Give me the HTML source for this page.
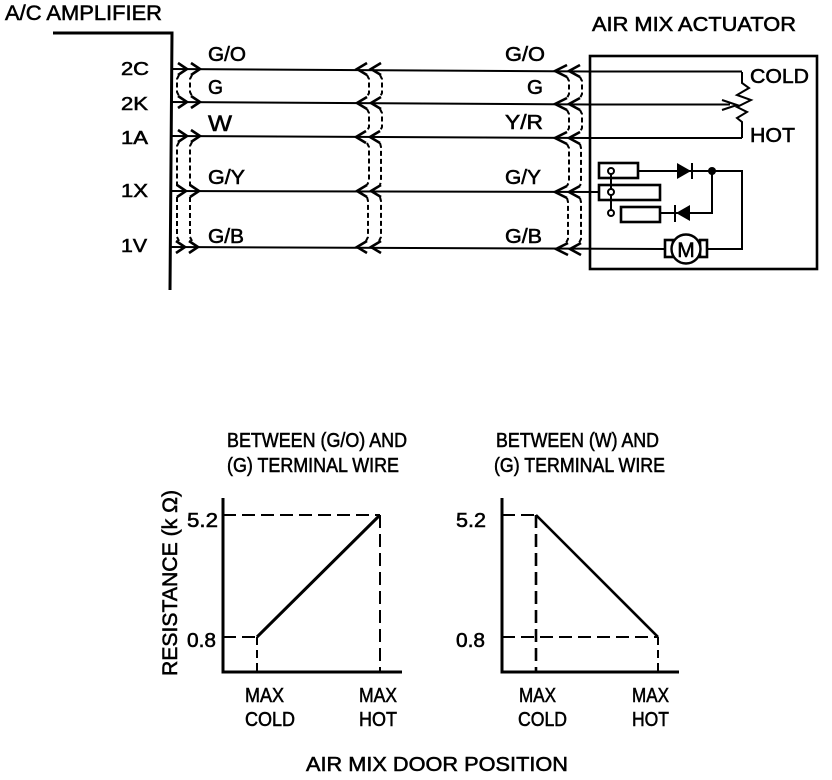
<!DOCTYPE html>
<html>
<head>
<meta charset="utf-8">
<style>
html,body{margin:0;padding:0;background:#fff;width:832px;height:780px;overflow:hidden}
svg{display:block}
text{font-family:"Liberation Sans",sans-serif;font-size:20px;fill:#000;stroke:#000;stroke-width:.55}
.p{font-size:18px}
.s{fill:none;stroke:#000;stroke-width:2}
.c{fill:none;stroke:#000;stroke-width:2.6}
.t{fill:none;stroke:#000;stroke-width:3}
.d{fill:none;stroke:#000;stroke-width:2;stroke-dasharray:5 3}
.g{fill:none;stroke:#000;stroke-width:2;stroke-dasharray:13 6}
.h{fill:none;stroke:#000;stroke-width:2;stroke-dasharray:8 5}
</style>
</head>
<body>
<svg width="832" height="780" viewBox="0 0 832 780" xmlns="http://www.w3.org/2000/svg">
<defs>
<path id="L" class="c" d="M178 -6L187 0L178 6M191 -6L200 0L191 6"/>
<path id="R" class="c" d="M367 -6L357 0L367 6M381 -6L371 0L381 6"/>
<path id="Q" class="c" d="M567 -6L555 0L567 6M580 -6L569 0L580 6"/>
</defs>

<!-- Amplifier -->
<path class="t" d="M53 33H172L170 290"/>
<text x="5" y="20" style="font-size:21px" textLength="157" lengthAdjust="spacingAndGlyphs">A/C AMPLIFIER</text>
<text class="p" x="121" y="75" textLength="28" lengthAdjust="spacingAndGlyphs">2C</text>
<text class="p" x="121" y="110" textLength="27" lengthAdjust="spacingAndGlyphs">2K</text>
<text class="p" x="121" y="144" textLength="27" lengthAdjust="spacingAndGlyphs">1A</text>
<text class="p" x="121" y="197" textLength="27" lengthAdjust="spacingAndGlyphs">1X</text>
<text class="p" x="121" y="252" textLength="26" lengthAdjust="spacingAndGlyphs">1V</text>

<!-- Wires -->
<path class="s" d="M171 69L590 71.5H742"/>
<path class="s" d="M171 102L590 104.5H730"/>
<path class="s" d="M171 136L590 138H742"/>
<path class="s" d="M171 191L599 192"/>
<path class="s" d="M171 247L665 249"/>

<!-- Chevrons -->
<use href="#L" x="0" y="69"/><use href="#L" x="0" y="102"/><use href="#L" x="0" y="136"/><use href="#L" x="-1" y="191"/><use href="#L" x="-2" y="247"/>
<use href="#R" x="0" y="69"/><use href="#R" x="0" y="103"/><use href="#R" x="-1" y="137"/><use href="#R" x="0" y="191"/><use href="#R" x="0" y="247"/>
<use href="#Q" x="0" y="71"/><use href="#Q" x="0" y="104"/><use href="#Q" x="0" y="138"/><use href="#Q" x="0" y="192"/><use href="#Q" x="1" y="249"/>

<!-- Dashed shields -->
<path class="d" d="M179 75L177 79V92L179 96M192 75L190 79V92L192 96"/>
<path class="d" d="M179 142L177 146V181L177 186M192 142L190 146V181L190 186"/>
<path class="d" d="M177 197V237L179 241M190 197V237L192 241"/>
<path class="d" d="M367 75L369 79V93L367 97M380 75L382 79V93L380 97"/>
<path class="d" d="M367 109L369 113V127L367 131M380 109L382 113V127L380 131"/>
<path class="d" d="M367 143L369 147V181L367 185M380 143L381 147V181L380 185"/>
<path class="d" d="M367 197L368 201V237L366 241M380 197L381 201V237L379 241"/>
<path class="d" d="M567 77L569 81V94L567 98M580 77L582 81V94L580 98"/>
<path class="d" d="M567 110L569 114V128L567 132M580 110L582 114V128L580 132"/>
<path class="d" d="M567 144L569 148V182L567 186M580 144L581 148V182L580 186"/>
<path class="d" d="M567 198L568 202V239L566 243M580 198L581 202V239L579 243"/>

<!-- Wire labels -->
<text x="208" y="61" textLength="38" lengthAdjust="spacingAndGlyphs">G/O</text>
<text x="208" y="94" textLength="15" lengthAdjust="spacingAndGlyphs">G</text>
<text x="208" y="131" style="font-size:22px" textLength="24" lengthAdjust="spacingAndGlyphs">W</text>
<text x="208" y="184" textLength="37" lengthAdjust="spacingAndGlyphs">G/Y</text>
<text x="208" y="243" textLength="36" lengthAdjust="spacingAndGlyphs">G/B</text>
<text x="505" y="61" textLength="40" lengthAdjust="spacingAndGlyphs">G/O</text>
<text x="527" y="94" textLength="16" lengthAdjust="spacingAndGlyphs">G</text>
<text x="505" y="129" textLength="38" lengthAdjust="spacingAndGlyphs">Y/R</text>
<text x="505" y="184" textLength="36" lengthAdjust="spacingAndGlyphs">G/Y</text>
<text x="505" y="243" textLength="37" lengthAdjust="spacingAndGlyphs">G/B</text>

<!-- Actuator -->
<text x="592" y="31" textLength="204" lengthAdjust="spacingAndGlyphs">AIR MIX ACTUATOR</text>
<rect x="590" y="56" width="227" height="213" class="c"/>
<text x="750" y="83" textLength="59" lengthAdjust="spacingAndGlyphs">COLD</text>
<text x="750" y="142" textLength="45" lengthAdjust="spacingAndGlyphs">HOT</text>
<path class="s" d="M742 72V83L749 88L737 95L751 100L737 107L747 112L737 118L742 122V138"/>
<path class="s" d="M722 100L737 105L722 110"/>

<rect x="599" y="163" width="39" height="15" class="c"/>
<rect x="599" y="185" width="61" height="15" class="c"/>
<rect x="621" y="207" width="39" height="15" class="c"/>
<path class="s" d="M611 171V213"/>
<circle cx="611" cy="171" r="3" fill="#fff" stroke="#000" stroke-width="2"/>
<circle cx="611" cy="192" r="3" fill="#fff" stroke="#000" stroke-width="2"/>
<circle cx="611" cy="213" r="3" fill="#fff" stroke="#000" stroke-width="2"/>
<path class="s" d="M638 171H742V249H708"/>
<path class="s" d="M712 171V213H660"/>
<path d="M677 163V179L691 171Z" fill="#000"/>
<path class="s" d="M692 163V179"/>
<path d="M690 205V221L676 213Z" fill="#000"/>
<path class="s" d="M675 205V222"/>
<circle cx="712" cy="171" r="4" fill="#000"/>
<rect x="665" y="240" width="8" height="17" class="c"/>
<rect x="700" y="240" width="7" height="17" class="c"/>
<circle cx="686" cy="249" r="14.5" fill="#fff" stroke="#000" stroke-width="2.4"/>
<text x="686" y="257" text-anchor="middle" style="font-size:21px">M</text>

<!-- Graph 1 -->
<text x="227" y="447" textLength="180" lengthAdjust="spacingAndGlyphs">BETWEEN (G/O) AND</text>
<text x="227" y="472" textLength="172" lengthAdjust="spacingAndGlyphs">(G) TERMINAL WIRE</text>
<path class="t" d="M223 498V672H402"/>
<path class="g" d="M223 515H380"/>
<path class="g" d="M380 515V672"/>
<path class="g" d="M223 637H257"/>
<path class="h" d="M257 637V672"/>
<path class="t" d="M257 637L380 515"/>
<text x="187" y="527" textLength="31" lengthAdjust="spacingAndGlyphs">5.2</text>
<text x="187" y="647" textLength="29" lengthAdjust="spacingAndGlyphs">0.8</text>
<text transform="translate(177 676) rotate(-90)" style="font-size:21px" textLength="186" lengthAdjust="spacingAndGlyphs">RESISTANCE (k Ω)</text>
<text x="245" y="702" textLength="39" lengthAdjust="spacingAndGlyphs">MAX</text>
<text x="245" y="726" textLength="50" lengthAdjust="spacingAndGlyphs">COLD</text>
<text x="359" y="702" textLength="38" lengthAdjust="spacingAndGlyphs">MAX</text>
<text x="359" y="726" textLength="38" lengthAdjust="spacingAndGlyphs">HOT</text>

<!-- Graph 2 -->
<text x="496" y="447" textLength="163" lengthAdjust="spacingAndGlyphs">BETWEEN (W) AND</text>
<text x="494" y="472" textLength="171" lengthAdjust="spacingAndGlyphs">(G) TERMINAL WIRE</text>
<path class="t" d="M502 498V672H679"/>
<path class="g" d="M502 515H536"/>
<path class="g" d="M536 515V672" style="stroke-width:2.6"/>
<path class="g" d="M502 637H658"/>
<path class="h" d="M658 637V672"/>
<path class="c" d="M536 515L658 637"/>
<text x="456" y="527" textLength="30" lengthAdjust="spacingAndGlyphs">5.2</text>
<text x="456" y="647" textLength="29" lengthAdjust="spacingAndGlyphs">0.8</text>
<text x="519" y="702" textLength="37" lengthAdjust="spacingAndGlyphs">MAX</text>
<text x="518" y="726" textLength="49" lengthAdjust="spacingAndGlyphs">COLD</text>
<text x="632" y="702" textLength="37" lengthAdjust="spacingAndGlyphs">MAX</text>
<text x="632" y="726" textLength="37" lengthAdjust="spacingAndGlyphs">HOT</text>

<text x="306" y="771" textLength="262" lengthAdjust="spacingAndGlyphs">AIR MIX DOOR POSITION</text>
</svg>
</body>
</html>
